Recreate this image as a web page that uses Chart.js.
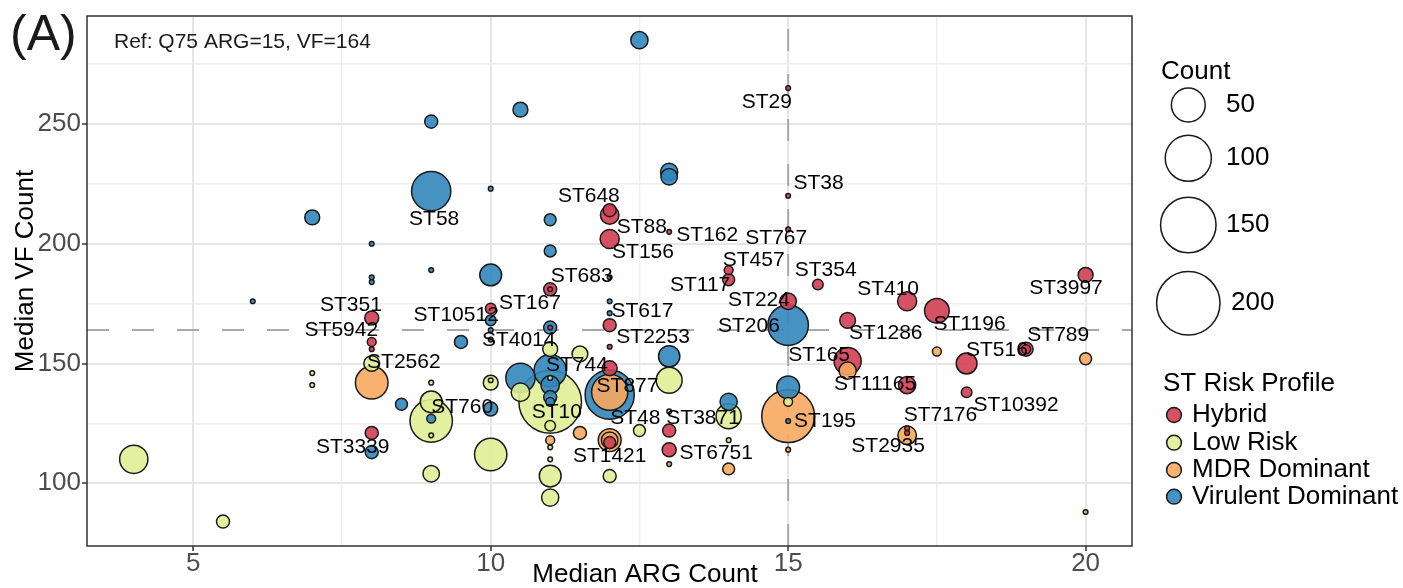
<!DOCTYPE html>
<html>
<head>
<meta charset="utf-8">
<script src="https://cdn.jsdelivr.net/npm/chart.js@4.4.0/dist/chart.umd.min.js"></script>
<style>
html, body { margin: 0; padding: 0; background: #fff; }
</style>
</head>
<body>
<canvas id="stChart" width="1403" height="588"></canvas>
<script>
// points: [median ARG, median VF, count]
var hybrid = [
  [12,214,5],[12,212,12],[12,202,13],[13,205,1],[15,265,1],[15,220,1],[15,206,1],
  [14,189,2],[14,185,4],[15.5,183,3],[11,181,5],[11,181,1],[10,173,3],[12,166,5],
  [11,165,1],[12,157,1],[12,148,7],[12,117,4],[13,122,5],[13,114,6],[15,176,9],
  [16,168,8],[16,151,30],[17,176,13],[17.5,172,24],[18,150,16],[18,138,3],[17,141,10],
  [17,123,1],[17,121,1],[20,187,7],[19,156,6],[19,156,2],[8,169,6],[8,159,2],[8,156,1],[8,121,5]
];
var lowRisk = [
  [4,110,33],[5.5,84,5],[7,146,1],[7,141,1],[8,150,8],[9,142,1],[9,134,18],[9,126,83],
  [9,120,1],[9,104,9],[10,142,7],[10,143,1],[10,112,45],[10.5,138,12],[11,156,7],[11,144,1],
  [11,134,195],[11,124,3],[11,115,1],[11,110,1],[11,103,18],[11,94,10],[11.5,154,8],
  [12.5,122,4],[12,103,5],[13,143,27],[13,130,1],[14,128,25],[14,118,1],[15,134,2]
];
var mdrDominant = [
  [8,142,46],[11,118,2],[11.5,121,5],[12,138,58],[12,118,20],[12,118,9],[13,108,1],
  [14,106,4],[15,128,135],[15,114,1],[16,147,10],[17.5,155,2],[17,120,12],[20,152,4],[20,88,1]
];
var virulentDominant = [
  [12.5,285,10],[10.5,256,7],[9,251,5],[9,222,70],[7,211,7],[13,230,10],[13,228,9],
  [10,223,1],[11,210,4],[11,197,4],[8,200,1],[9,189,1],[8,186,1],[8,184,1],[10,187,18],
  [12,186,1],[6,176,1],[12,176,1],[12,171,1],[10,168,3],[10,164,1],[10,160,1],[11,165,5],
  [9.5,159,5],[8.5,133,4],[8,113,5],[9,127,2],[10,131,6],[10.5,144,36],[11,147,45],
  [11,141,12],[11,136,5],[11,134,2],[12,137,115],[13,153,17],[14,134,10],[15,166,75],
  [15,140,20],[15,126,1]
];

// ST labels, placed where the repelled text sits (data units)
var stLabels = [
  ['ST29',14.64,259.3],['ST38',15.51,225.4],['ST648',11.65,219.9],['ST58',9.05,210.1],
  ['ST88',12.54,206.8],['ST162',13.64,203.4],['ST767',14.80,202.4],['ST156',12.56,196.5],
  ['ST457',14.42,193.0],['ST354',15.63,189.0],['ST683',11.53,186.5],['ST117',13.52,182.7],
  ['ST410',16.68,181.1],['ST3997',19.67,181.3],['ST224',14.51,176.5],['ST351',7.65,174.4],
  ['ST167',10.66,175.2],['ST10512',9.42,170.0],['ST617',12.55,171.7],['ST1196',18.05,166.5],
  ['ST206',14.34,165.6],['ST5942',7.49,163.7],['ST1286',16.64,162.5],['ST789',19.54,161.7],
  ['ST4014',10.47,159.8],['ST2253',12.73,161.0],['ST2562',8.54,150.6],['ST744',11.45,149.1],
  ['ST165',15.52,153.3],['ST516',18.51,155.6],['ST11165',16.46,141.2],['ST877',12.30,140.4],
  ['ST760',9.52,131.6],['ST10',11.11,129.5],['ST10392',18.83,132.6],['ST48',12.43,127.2],
  ['ST3871',13.57,127.2],['ST7176',17.56,128.4],['ST195',15.62,125.7],['ST3339',7.68,115.1],
  ['ST2935',16.68,115.5],['ST1421',12.00,111.5],['ST6751',13.79,112.4]
];

var xMajorTicks = [5, 10, 15, 20];
var xMinorTicks = [7.5, 12.5, 17.5];
var yMajorTicks = [100, 150, 200, 250];
var yMinorTicks = [125, 175, 225, 275];
var sizeBreaks = [50, 100, 150, 200];
var profileNames = ['Hybrid', 'Low Risk', 'MDR Dominant', 'Virulent Dominant'];
var refARG = 15, refVF = 164;

var FONT = '"Liberation Sans", Arial, Helvetica, sans-serif';
var profileColors = ['rgba(208,62,82,0.9)', 'rgba(224,238,150,0.9)', 'rgba(248,168,96,0.9)', 'rgba(50,134,189,0.9)'];
var STROKE = 1.5;

// outer radius in px for a count (area scale)
function outerR(n) {
  return 3.1 + 2.08 * Math.sqrt(Math.max(n - 1, 0));
}

var pts = [];
[hybrid, lowRisk, mdrDominant, virulentDominant].forEach(function (grp, gi) {
  grp.forEach(function (d) {
    pts.push({ x: d[0], y: d[1], n: d[2], c: profileColors[gi] });
  });
});
// big ones first so the small ones stay visible
pts.sort(function (a, b) { return b.n - a.n; });
var bubbleData = pts.map(function (p) { return { x: p.x, y: p.y, r: outerR(p.n) - STROKE / 2 }; });
var bubbleFill = pts.map(function (p) { return p.c; });

function isIn(list, v) {
  return list.some(function (t) { return Math.abs(t - v) < 1e-6; });
}

function gridOpts(major) {
  return {
    color: function (c) { return isIn(major, c.tick.value) ? '#E6E6E6' : '#EEEEEE'; },
    lineWidth: function (c) { return isIn(major, c.tick.value) ? 2 : 1.4; },
    tickLength: 5,
    tickWidth: 1.5,
    tickColor: function (c) { return isIn(major, c.tick.value) ? '#333333' : 'rgba(0,0,0,0)'; }
  };
}

// keep the plot panel exactly where the figure has it
function noPad(s) {
  s.paddingTop = 0; s.paddingBottom = 0; s.paddingLeft = 0; s.paddingRight = 0;
}

var decor = {
  id: 'decor',
  beforeDatasetsDraw: function (chart) {
    var c = chart.ctx, a = chart.chartArea;
    var px = chart.scales.x.getPixelForValue(refARG);
    var py = chart.scales.y.getPixelForValue(refVF);
    c.save();
    c.strokeStyle = '#A8A8A8';
    c.lineWidth = 2;
    c.setLineDash([22, 23]);
    c.beginPath(); c.moveTo(a.left, py); c.lineTo(a.right, py); c.stroke();
    c.beginPath(); c.moveTo(px, a.bottom); c.lineTo(px, a.top); c.stroke();
    c.restore();
  },
  afterDatasetsDraw: function (chart) {
    var c = chart.ctx, a = chart.chartArea;
    var xs = chart.scales.x, ys = chart.scales.y;
    c.save();
    c.fillStyle = '#000';
    c.font = '21px ' + FONT;
    c.textAlign = 'center';
    c.textBaseline = 'middle';
    stLabels.forEach(function (l) {
      c.fillText(l[0], xs.getPixelForValue(l[1]), ys.getPixelForValue(l[2]));
    });

    c.textAlign = 'left';
    c.fillStyle = '#1a1a1a';
    c.fillText('Ref: Q75 ARG=' + refARG + ', VF=' + refVF, 114, 42);

    // panel border
    c.strokeStyle = '#333333';
    c.lineWidth = 1.5;
    c.strokeRect(a.left, a.top, a.right - a.left, a.bottom - a.top);
    c.restore();
  },
  afterDraw: function (chart) {
    var c = chart.ctx;
    c.save();
    c.fillStyle = '#1a1a1a';
    c.font = '50px ' + FONT;
    c.textAlign = 'left';
    c.textBaseline = 'alphabetic';
    c.fillText('(A)', 10, 50);

    // axis titles
    c.fillStyle = '#000';
    c.font = '26px ' + FONT;
    c.textAlign = 'center';
    c.textBaseline = 'middle';
    c.fillText('Median ARG Count', 645, 575);
    c.save();
    c.translate(26, 271);
    c.rotate(-Math.PI / 2);
    c.fillText('Median VF Count', 0, 0);
    c.restore();

    // size legend
    c.textAlign = 'left';
    c.fillText('Count', 1161, 72);
    var keyY = [105, 158.3, 225, 303.3];
    var labX = [1226, 1226, 1226, 1231];
    sizeBreaks.forEach(function (n, i) {
      c.beginPath();
      c.arc(1188.3, keyY[i], outerR(n) - STROKE / 2, 0, Math.PI * 2);
      c.strokeStyle = '#1a1a1a';
      c.lineWidth = STROKE;
      c.stroke();
      c.fillText(String(n), labX[i], keyY[i]);
    });

    // colour legend
    c.fillText('ST Risk Profile', 1163, 384);
    var colY = [415, 442.7, 470, 496.7];
    profileNames.forEach(function (name, i) {
      c.beginPath();
      c.arc(1174, colY[i], 7.4, 0, Math.PI * 2);
      c.fillStyle = profileColors[i];
      c.fill();
      c.strokeStyle = '#1a1a1a';
      c.lineWidth = STROKE;
      c.stroke();
      c.fillStyle = '#000';
      c.fillText(name, 1192, colY[i]);
    });
    c.restore();
  }
};

var ctx = document.getElementById('stChart').getContext('2d');
new Chart(ctx, {
  type: 'bubble',
  data: {
    datasets: [{
      data: bubbleData,
      backgroundColor: bubbleFill,
      borderColor: '#1a1a1a',
      borderWidth: STROKE,
      clip: false
    }]
  },
  options: {
    responsive: false,
    animation: false,
    devicePixelRatio: 1,
    events: [],
    layout: { autoPadding: false, padding: { left: 0, top: 16, right: 271, bottom: 0 } },
    plugins: { legend: { display: false }, tooltip: { enabled: false } },
    scales: {
      x: {
        type: 'linear',
        min: 3.214,
        max: 20.78,
        afterBuildTicks: function (s) {
          s.ticks = xMajorTicks.concat(xMinorTicks).sort(function (a, b) { return a - b; })
            .map(function (v) { return { value: v }; });
        },
        afterFit: function (s) { s.height = 42; noPad(s); },
        ticks: {
          autoSkip: false,
          maxRotation: 0,
          padding: 0,
          color: '#4D4D4D',
          font: { family: FONT, size: 26, lineHeight: 1 },
          callback: function (v) { return isIn(xMajorTicks, v) ? String(v) : ''; }
        },
        grid: gridOpts(xMajorTicks),
        border: { display: false }
      },
      y: {
        type: 'linear',
        min: 73.8,
        max: 295.1,
        afterBuildTicks: function (s) {
          s.ticks = yMajorTicks.concat(yMinorTicks).sort(function (a, b) { return a - b; })
            .map(function (v) { return { value: v }; });
        },
        afterFit: function (s) { s.width = 87; noPad(s); },
        ticks: {
          autoSkip: false,
          padding: 1,
          color: '#4D4D4D',
          font: { family: FONT, size: 26, lineHeight: 1 },
          callback: function (v) { return isIn(yMajorTicks, v) ? String(v) : ''; }
        },
        grid: gridOpts(yMajorTicks),
        border: { display: false }
      }
    }
  },
  plugins: [decor]
});
</script>
</body>
</html>
